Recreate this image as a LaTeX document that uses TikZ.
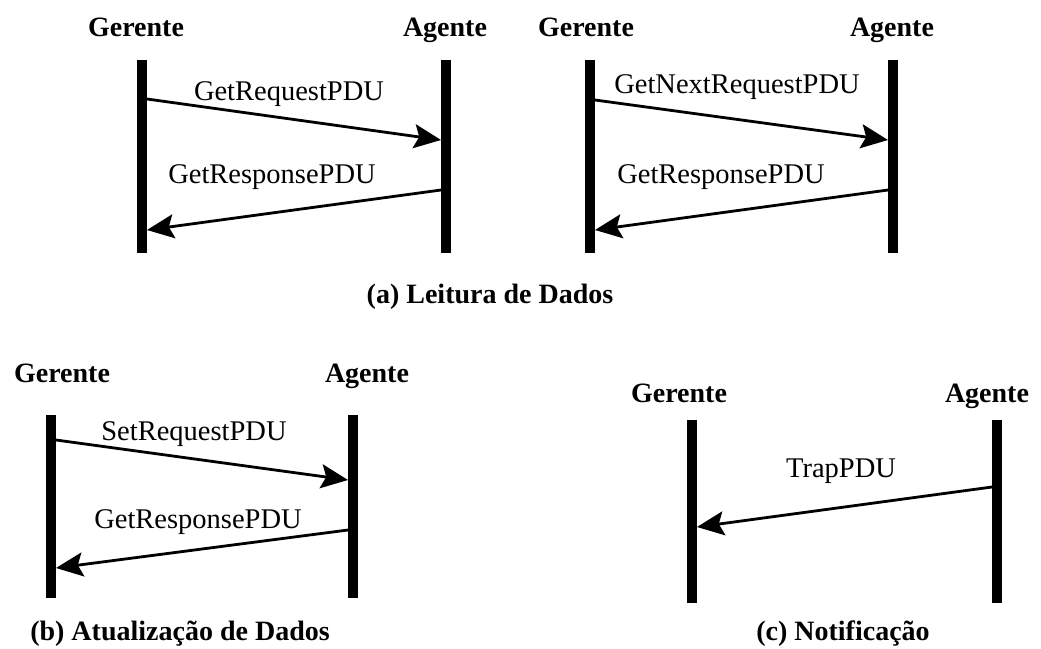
\documentclass[tikz,border=0pt]{standalone}
\usepackage{fontspec}
\setmainfont{Liberation Serif}
\usetikzlibrary{arrows.meta}
\begin{document}
\begin{tikzpicture}[x=1pt,y=-1pt,
  lifeline/.style={line width=10pt},
  msg/.style={line width=2.8pt,-{Stealth[length=27pt,width=24pt,inset=5pt]}},
  role/.style={anchor=base,inner sep=0pt,font=\fontsize{28}{30}\selectfont\bfseries},
  msglabel/.style={anchor=base,inner sep=0pt,font=\fontsize{28.5}{30}\selectfont},
  caption/.style={anchor=base,inner sep=0pt,font=\fontsize{28}{30}\selectfont\bfseries}]
\useasboundingbox (0,0) rectangle (1041,648);

% ---- (a) left: GetRequest ----
\node[role] (g1) at (136,36) {Gerente};
\node[role] (ag1) at (445,36) {Agente};
\draw[lifeline] (142,60) -- (142,253);
\draw[lifeline] (446,60) -- (446,253);
\coordinate (g1a) at (147,99);  \coordinate (ag1a) at (441,140);
\coordinate (ag1b) at (441,190); \coordinate (g1b) at (147,230);
\draw[msg] (g1a) -- (ag1a);
\draw[msg] (ag1b) -- (g1b);
\node[msglabel] (m1) at (289,100) {GetRequestPDU};
\node[msglabel] (m2) at (272,183) {GetResponsePDU};

% ---- (a) right: GetNextRequest ----
\node[role] (g2) at (586,36) {Gerente};
\node[role] (ag2) at (892,36) {Agente};
\draw[lifeline] (590,60) -- (590,253);
\draw[lifeline] (893,60) -- (893,253);
\coordinate (g2a) at (595,100);  \coordinate (ag2a) at (888,140);
\coordinate (ag2b) at (888,190); \coordinate (g2b) at (595,230);
\draw[msg] (g2a) -- (ag2a);
\draw[msg] (ag2b) -- (g2b);
\node[msglabel] (m3) at (737,93) {GetNextRequestPDU};
\node[msglabel] (m4) at (721,183) {GetResponsePDU};

\node[caption] (capa) at (490,303) {(a) Leitura de Dados};

% ---- (b) SetRequest ----
\node[role] (g3) at (62,382) {Gerente};
\node[role] (ag3) at (367,382) {Agente};
\draw[lifeline] (51,415) -- (51,598);
\draw[lifeline] (353,415) -- (353,598);
\coordinate (g3a) at (56,440);  \coordinate (ag3a) at (348,480);
\coordinate (ag3b) at (348,530); \coordinate (g3b) at (56,568);
\draw[msg] (g3a) -- (ag3a);
\draw[msg] (ag3b) -- (g3b);
\node[msglabel] (m5) at (194,440) {SetRequestPDU};
\node[msglabel] (m6) at (198,528) {GetResponsePDU};

\node[caption] (capb) at (180,640) {(b) Atualização de Dados};

% ---- (c) Trap ----
\node[role] (g4) at (679,402) {Gerente};
\node[role] (ag4) at (987,402) {Agente};
\draw[lifeline] (692,420) -- (692,603);
\draw[lifeline] (997,420) -- (997,603);
\coordinate (ag4a) at (992,487); \coordinate (g4a) at (697,527);
\draw[msg] (ag4a) -- (g4a);
\node[msglabel] (m7) at (841,477) {TrapPDU};

\node[caption] (capc) at (843,640) {(c) Notificação};
\end{tikzpicture}
\end{document}
